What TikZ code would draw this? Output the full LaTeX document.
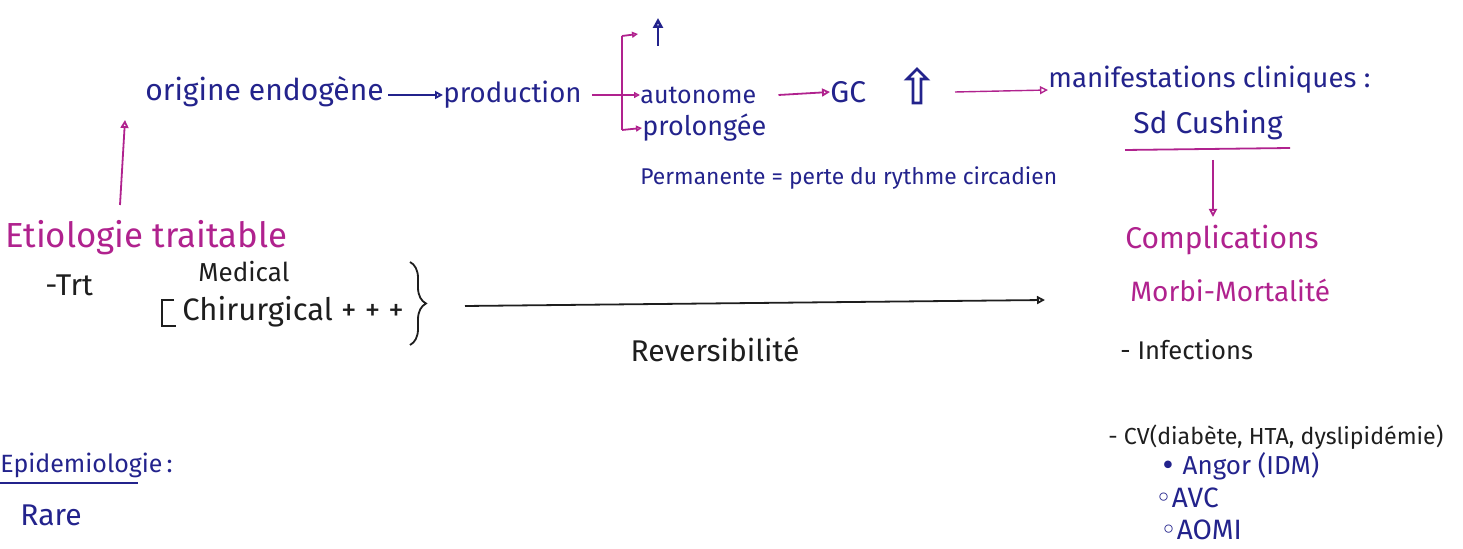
\documentclass[tikz,border=0pt]{standalone}
\usepackage{fontspec}
\setmainfont{Fira Sans}
\newfontfamily\symf{DejaVu Sans}
\usetikzlibrary{arrows.meta,shapes.arrows,decorations.pathreplacing}
\definecolor{ink}{HTML}{23238C}
\definecolor{mag}{HTML}{B0228E}
\definecolor{blk}{HTML}{1E1E1E}
\newcommand{\fs}[1]{\fontsize{#1}{#1}\selectfont}
\tikzset{
  txt/.style={anchor=west,inner sep=0pt,font=\fs{15}},
  btxt/.style={txt,text=ink},
  mtxt/.style={txt,text=mag},
  ktxt/.style={txt,text=blk},
  tip/.style={-{Triangle[open,length=4pt,width=4pt]}},
  stip/.style={-{Triangle[open,length=3pt,width=3pt]}},
  conn/.style={line width=0.9pt,tip},
}
\begin{document}
\begin{tikzpicture}[x=0.5pt,y=-0.5pt]
\useasboundingbox (0,0) rectangle (1463,549);
% top row
\node[btxt] (orig) at (145,92) {origine endogène};
\node[btxt,font=\fs{13.8}] (prod) at (443,95) {production};
\node[btxt,font=\fs{12.5}] (auto) at (640,95) {autonome};
\node[btxt,font=\fs{13.5}] (prol) at (642,128) {prolongée};
\coordinate (up1) at (658,18);
\coordinate (up0) at (658,46);
\node[btxt] (gc) at (830,92) {GC};
\node[draw=ink,line width=1.4pt,single arrow,rotate=90,minimum height=17pt,minimum width=10pt,single arrow head extend=1.8pt,inner sep=0.5pt] (dbl) at (917,88) {};
\node[btxt,font=\fs{13.8}] (manif) at (1048,80) {manifestations cliniques :};
\node[btxt,anchor=center] (sd) at (1208,125) {Sd Cushing};
\node[btxt,font=\fs{11.4}] (perm) at (640,178) {Permanente = perte du rythme circadien};
% arrows top
\draw[conn,ink] (orig.east) ++(4,3) -- (prod.west);
\draw[mag,line width=0.9pt] (prod.east) ++(10,0) coordinate (bk) -- (622,95);
\draw[mag,line width=0.9pt] (622,36) -- (622,130);
\draw[conn,mag,stip] (622,36) -- (638,34);
\draw[conn,mag,stip] (622,95) -- (auto.west);
\draw[conn,mag,stip] (622,130) -- (prol.west);
\draw[ink,line width=1.3pt,-{Triangle[open,length=5pt,width=5pt]}] (up0) -- (up1);
\draw[conn,mag] (auto.east) ++(22,0) -- (gc.west);
\draw[conn,mag,line width=0.7pt] (955,92) -- (manif.west |- 0,90);
\draw[mag,line width=0.9pt] (1125,150) -- (1290,148);
\coordinate (cdown) at (1213,217);
\draw[conn,mag] (1213,160) -- (cdown);
% left
\node[mtxt,font=\fs{17.4}] (etio) at (5,238) {Etiologie traitable};
\draw[conn,mag] (120,205) -- (125,120);
\node[ktxt] (trt) at (45,285) {-Trt};
\node[ktxt,font=\fs{13}] (med) at (198,272) {Medical};
\node[ktxt,font=\fs{15.5}] (chir) at (182,312) {Chirurgical + + +};
\draw[blk,line width=0.9pt] (174,300) -- (162,300) -- (162,326) -- (176,326);
\draw[blk,line width=0.9pt,decorate,decoration={brace,amplitude=8pt}] (410,262) -- (410,345);
\coordinate (bre) at (440,304);
\draw[conn,blk] (465,306) -- (1045,300);
\node[ktxt,anchor=center] (rev) at (715,350) {Reversibilité};
% right
\node[mtxt] (comp) at (1125,240) {Complications};
\node[mtxt,font=\fs{14}] (morb) at (1130,290) {Morbi-Mortalité};
\node[ktxt,font=\fs{12.8}] (inf) at (1120,350) {- Infections};
\node[ktxt,font=\fs{11.6}] (cv) at (1108,437) {- CV(diabète, HTA, dyslipidémie)};
\node[btxt,font=\fs{13}] (ang) at (1160,466) {{\symf•} Angor (IDM)};
\node[btxt,font=\fs{14}] (avc) at (1155,498) {{\symf◦}AVC};
\node[btxt,font=\fs{14}] (aomi) at (1160,530) {{\symf◦}AOMI};
% bottom left
\node[btxt,font=\fs{12.5}] (epi) at (0,465) {Epidemiologie\,:};
\draw[ink,line width=0.9pt] (0,483) -- (138,483);
\node[btxt] (rare) at (20,515) {Rare};
\end{tikzpicture}
\end{document}
